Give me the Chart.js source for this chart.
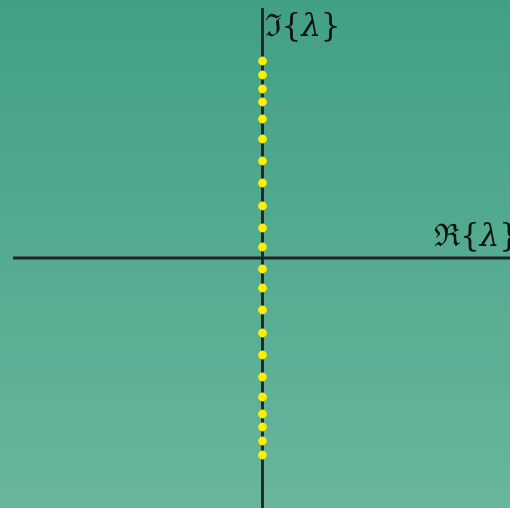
<!DOCTYPE html>
<html>
<head>
<meta charset="utf-8">
<script src="https://cdn.jsdelivr.net/npm/chart.js@4.4.1/dist/chart.umd.min.js"></script>
<style>
  html, body { margin: 0; padding: 0; }
  body {
    width: 510px; height: 508px; overflow: hidden;
    background: linear-gradient(to bottom, #41a084, #67b69d);
  }
  #wrap { position: relative; width: 510px; height: 508px; }
</style>
</head>
<body>
<div id="wrap"><canvas id="eigChart"></canvas></div>
<script>
// Eigenvalues: all purely imaginary, symmetric about the real axis
const realParts = [0, 0, 0, 0, 0, 0, 0, 0, 0, 0, 0, 0, 0, 0, 0, 0, 0, 0, 0, 0, 0, 0];
const imagParts = [
    1.97, 1.83, 1.69, 1.56, 1.39, 1.19, 0.97, 0.75, 0.52, 0.30, 0.11,
    -0.11, -0.30, -0.52, -0.75, -0.97, -1.19, -1.39, -1.56, -1.69, -1.83, -1.97
];

// Plot window and visible extent of the axis lines
const xRange = [-2.625, 2.475];
const yRange = [-2.5, 2.58];
const realAxisStart = -2.495;
const imagAxisTop = 2.5;

// label pieces: [text, italic]
const reLabel = [['ℜ{', false], ['λ', true], ['}', false]];
const imLabel = [['ℑ{', false], ['λ', true], ['}', false]];

const FONT_SIZE = 31;
const FAMILY = '"DejaVu Serif", "Liberation Serif", serif';

function labelWidth(ctx, parts) {
    let w = 0;
    parts.forEach(([t, it]) => {
        ctx.font = (it ? 'italic ' : '') + FONT_SIZE + 'px ' + FAMILY;
        w += ctx.measureText(t).width;
    });
    return w;
}

function drawLabel(ctx, parts, x, y) {
    parts.forEach(([t, it]) => {
        ctx.font = (it ? 'italic ' : '') + FONT_SIZE + 'px ' + FAMILY;
        ctx.fillText(t, x, y);
        x += ctx.measureText(t).width;
    });
}

// Draws the two axes through the origin plus their labels
const complexAxes = {
    id: 'complexAxes',
    beforeDatasetsDraw(chart) {
        const ctx = chart.ctx;
        const xs = chart.scales.x;
        const ys = chart.scales.y;
        const x0 = xs.getPixelForValue(0);
        const y0 = ys.getPixelForValue(0);
        ctx.save();
        ctx.strokeStyle = '#222222';
        ctx.lineWidth = 2.8;
        ctx.beginPath();
        ctx.moveTo(xs.getPixelForValue(realAxisStart), y0);
        ctx.lineTo(xs.right, y0);
        ctx.moveTo(x0, ys.getPixelForValue(imagAxisTop));
        ctx.lineTo(x0, ys.bottom);
        ctx.stroke();

        ctx.fillStyle = '#111111';
        ctx.textBaseline = 'alphabetic';
        ctx.textAlign = 'left';
        drawLabel(ctx, imLabel, x0 + 2, ys.getPixelForValue(imagAxisTop) + 28);
        // the real-axis label runs slightly past the right edge
        drawLabel(ctx, reLabel, xs.right + 9 - labelWidth(ctx, reLabel), y0 - 12);
        ctx.restore();
    }
};

new Chart(document.getElementById('eigChart'), {
    type: 'scatter',
    data: {
        datasets: [{
            data: realParts.map((re, i) => ({ x: re, y: imagParts[i] })),
            backgroundColor: '#ffee00',
            borderWidth: 0,
            pointRadius: 4.4,
            pointHoverRadius: 4.4
        }]
    },
    options: {
        responsive: true,
        maintainAspectRatio: false,
        animation: false,
        layout: { padding: 0, autoPadding: false },
        plugins: {
            legend: { display: false },
            tooltip: { enabled: false }
        },
        scales: {
            x: { type: 'linear', min: xRange[0], max: xRange[1], display: false },
            y: { type: 'linear', min: yRange[0], max: yRange[1], display: false }
        }
    },
    plugins: [complexAxes]
});
</script>
</body>
</html>
